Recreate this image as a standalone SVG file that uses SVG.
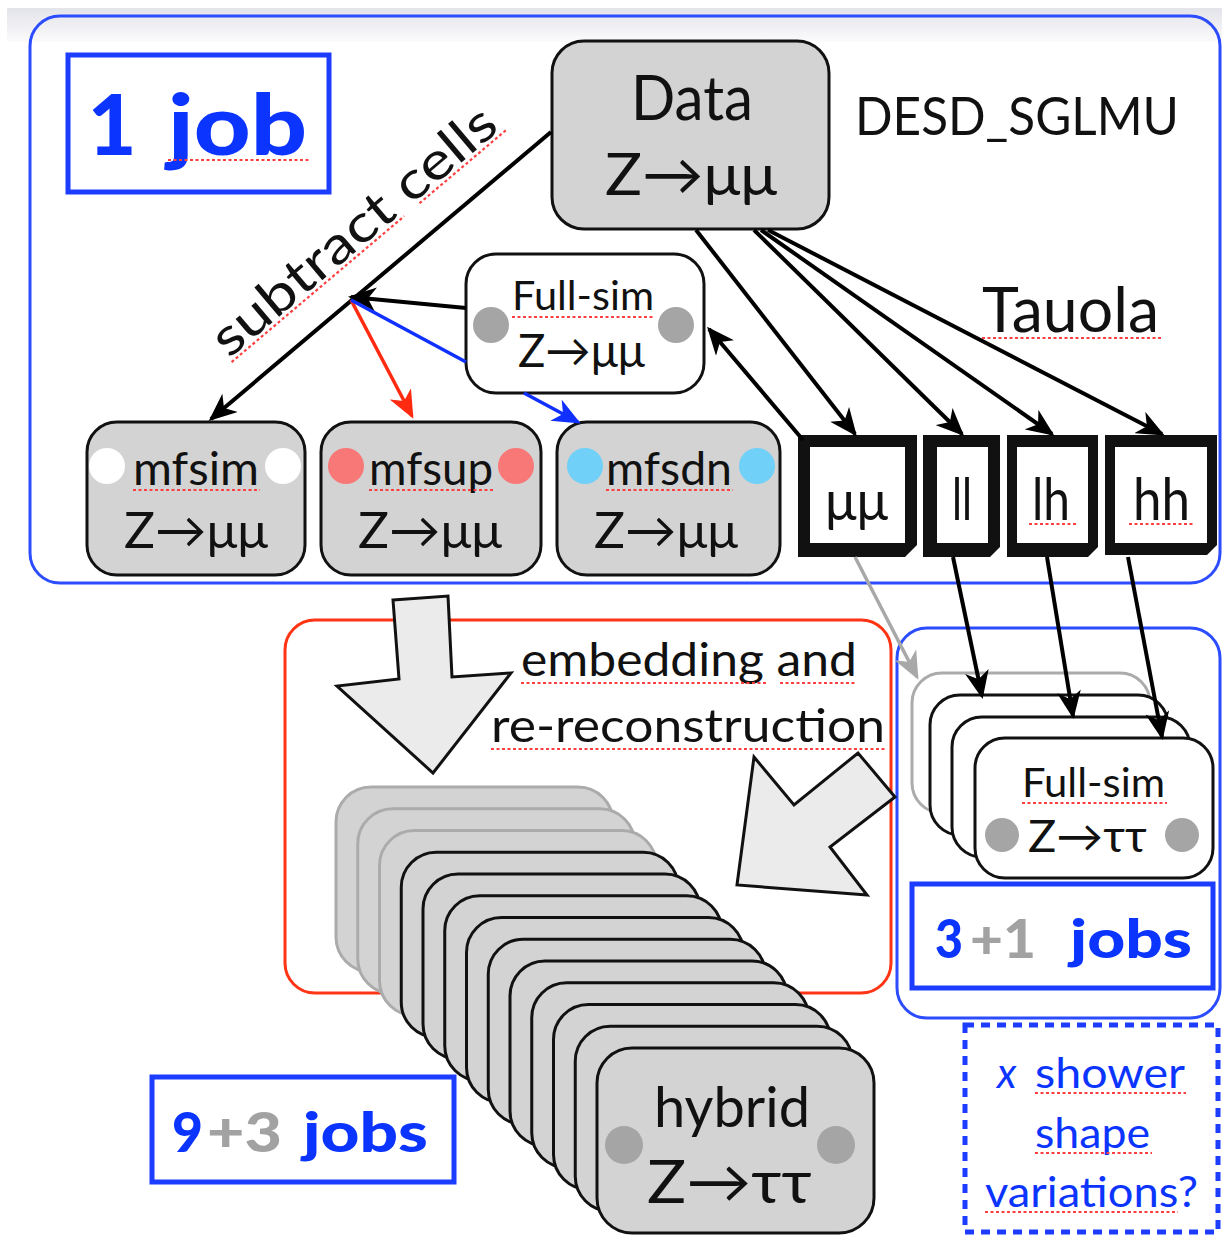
<svg xmlns="http://www.w3.org/2000/svg" width="1222" height="1236" viewBox="0 0 1222 1236">
  <defs>
    <style>
      .t { font-family: Lato, 'Open Sans', 'DejaVu Sans', sans-serif; fill: #111; }
      .b { font-weight: 900; }
      .blue { fill: #0b35ff; }
      .grey { fill: #a2a2a2; }
      .sp { stroke: #ff4040; stroke-width: 2.2; stroke-dasharray: 3 2.5; fill: none; }
      .frame { fill: none; stroke: #2c4dff; stroke-width: 3; }
      .jobbox { fill: #fff; stroke: #1c3dff; stroke-width: 5; }
      .node { fill: #d3d3d3; stroke: #111; stroke-width: 3; }
      .wnode { fill: #fff; stroke: #111; stroke-width: 3; }
      .ghost { fill: #d3d3d3; stroke: #ababab; stroke-width: 3; }
      .wghost { fill: #fff; stroke: #ababab; stroke-width: 3; }
      .frameb { fill: #111; }
      .inner { fill: #fff; }
      .k { stroke: #000; stroke-width: 4; fill: none; }
      .block { fill: #ebebeb; stroke: #111; stroke-width: 3; stroke-linejoin: miter; }
    </style>
    <linearGradient id="band" x1="0" y1="0" x2="0" y2="1">
      <stop offset="0" stop-color="#e3e3ea"/>
      <stop offset="1" stop-color="#fbfbfc"/>
    </linearGradient>
    <marker id="ah" viewBox="0 0 28 24" refX="25" refY="12" markerWidth="28" markerHeight="24" markerUnits="userSpaceOnUse" orient="auto">
      <path d="M0,0 L28,12 L0,24 L8,12 Z" fill="#000"/>
    </marker>
    <marker id="ahr" viewBox="0 0 28 24" refX="25" refY="12" markerWidth="28" markerHeight="24" markerUnits="userSpaceOnUse" orient="auto">
      <path d="M0,0 L28,12 L0,24 L8,12 Z" fill="#ff2a10"/>
    </marker>
    <marker id="ahb" viewBox="0 0 28 24" refX="25" refY="12" markerWidth="28" markerHeight="24" markerUnits="userSpaceOnUse" orient="auto">
      <path d="M0,0 L28,12 L0,24 L8,12 Z" fill="#1030ff"/>
    </marker>
    <marker id="ahg" viewBox="0 0 28 24" refX="25" refY="12" markerWidth="28" markerHeight="24" markerUnits="userSpaceOnUse" orient="auto">
      <path d="M0,0 L28,12 L0,24 L8,12 Z" fill="#a8a8a8"/>
    </marker>
    <rect id="hcard" width="277" height="185" rx="35"/>
    <rect id="fcard" width="238" height="140" rx="30"/>
  </defs>

  <rect width="1222" height="1236" fill="#fff"/>
  <rect x="7" y="8" width="1215" height="34" fill="url(#band)"/>

  <!-- frames -->
  <g id="frames">
    <rect class="frame" x="30" y="16" width="1190" height="567" rx="30"/>
    <rect class="frame" x="285" y="620" width="606" height="373" rx="30" style="stroke:#ff3414"/>
    <rect class="frame" x="897" y="628" width="323" height="390" rx="30"/>
    <rect x="965" y="1025" width="253" height="207" fill="none" stroke="#1c3dff" stroke-width="5" stroke-dasharray="9 7"/>
  </g>

  <!-- job count labels -->
  <g id="label-1job">
    <rect class="jobbox" x="68" y="55" width="261" height="137"/>
    <text class="t b blue" x="112" y="155" font-size="84" text-anchor="middle">1</text>
    <text class="t b blue" x="168" y="155" font-size="84" textLength="139" lengthAdjust="spacingAndGlyphs">job</text>
    <line class="sp" x1="168" y1="160" x2="310" y2="160"/>
  </g>

  <!-- Data -->
  <g id="data">
    <rect class="node" x="552" y="41" width="277" height="188" rx="32"/>
    <text class="t" x="631" y="120" font-size="62" textLength="122" lengthAdjust="spacingAndGlyphs">Data</text>
    <text class="t" x="605" y="195" font-size="58" textLength="172" lengthAdjust="spacingAndGlyphs">Z→μμ</text>
  </g>
  <text id="desd" class="t" x="855" y="135" font-size="52" textLength="324" lengthAdjust="spacingAndGlyphs">DESD_SGLMU</text>
  <g id="tauola-label">
    <text class="t" x="982" y="332" font-size="62" textLength="177" lengthAdjust="spacingAndGlyphs">Tauola</text>
    <line class="sp" x1="982" y1="338" x2="1162" y2="338"/>
  </g>

  <!-- subtract cells label -->
  <g id="subtract-label" transform="translate(229,359) rotate(-40.2)">
    <text class="t" x="0" y="0" font-size="52" textLength="356" lengthAdjust="spacingAndGlyphs">subtract cells</text>
    <line class="sp" x1="0" y1="4" x2="226" y2="4"/>
    <line class="sp" x1="246" y1="4" x2="360" y2="4"/>
  </g>

  <!-- Full-sim Z->mumu -->
  <g id="fullsim-mumu">
    <rect class="wnode" x="466" y="254" width="238" height="139" rx="30"/>
    <circle cx="491" cy="325" r="18" fill="#a5a5a5"/>
    <circle cx="676" cy="325" r="18" fill="#a5a5a5"/>
    <text class="t" x="512" y="310" font-size="40" textLength="142" lengthAdjust="spacingAndGlyphs">Full-sim</text>
    <line class="sp" x1="512" y1="317" x2="655" y2="317"/>
    <text class="t" x="518" y="367" font-size="46" textLength="127" lengthAdjust="spacingAndGlyphs">Z→μμ</text>
  </g>

  <!-- mfsim / mfsup / mfsdn -->
  <g id="mfsim">
    <rect class="node" x="87" y="422" width="218" height="153" rx="30"/>
    <circle cx="107" cy="466" r="18" fill="#fff"/>
    <circle cx="283" cy="466" r="18" fill="#fff"/>
    <text class="t" x="133" y="485" font-size="46" textLength="126" lengthAdjust="spacingAndGlyphs">mfsim</text>
    <line class="sp" x1="133" y1="490" x2="260" y2="490"/>
    <text class="t" x="124" y="548" font-size="50" textLength="144" lengthAdjust="spacingAndGlyphs">Z→μμ</text>
  </g>
  <g id="mfsup">
    <rect class="node" x="321" y="422" width="220" height="153" rx="30"/>
    <circle cx="346" cy="466" r="18" fill="#f87878"/>
    <circle cx="516" cy="466" r="18" fill="#f87878"/>
    <text class="t" x="369" y="485" font-size="46" textLength="124" lengthAdjust="spacingAndGlyphs">mfsup</text>
    <line class="sp" x1="369" y1="490" x2="494" y2="490"/>
    <text class="t" x="358" y="548" font-size="50" textLength="144" lengthAdjust="spacingAndGlyphs">Z→μμ</text>
  </g>
  <g id="mfsdn">
    <rect class="node" x="557" y="422" width="223" height="153" rx="30"/>
    <circle cx="585" cy="466" r="18" fill="#70d0f8"/>
    <circle cx="757" cy="466" r="18" fill="#70d0f8"/>
    <text class="t" x="606" y="485" font-size="46" textLength="126" lengthAdjust="spacingAndGlyphs">mfsdn</text>
    <line class="sp" x1="606" y1="490" x2="733" y2="490"/>
    <text class="t" x="594" y="548" font-size="50" textLength="144" lengthAdjust="spacingAndGlyphs">Z→μμ</text>
  </g>

  <!-- Tauola decay channels -->
  <g id="ch-mumu">
    <path class="frameb" d="M798,435 H917 V545 L905,557 H798 Z"/>
    <rect class="inner" x="810" y="447" width="95" height="96"/>
    <text class="t" x="825" y="520" font-size="56" textLength="63" lengthAdjust="spacingAndGlyphs">μμ</text>
  </g>
  <g id="ch-ll">
    <path class="frameb" d="M923,435 H1000 V547 L990,557 H923 Z"/>
    <rect class="inner" x="937" y="447" width="51" height="96"/>
    <text class="t" x="952" y="520" font-size="58" textLength="20" lengthAdjust="spacingAndGlyphs">ll</text>
  </g>
  <g id="ch-lh">
    <path class="frameb" d="M1007,435 H1098 V547 L1088,557 H1007 Z"/>
    <rect class="inner" x="1017" y="447" width="71" height="96"/>
    <text class="t" x="1032" y="520" font-size="58" textLength="38" lengthAdjust="spacingAndGlyphs">lh</text>
    <line class="sp" x1="1029" y1="524" x2="1078" y2="524"/>
  </g>
  <g id="ch-hh">
    <path class="frameb" d="M1105,435 H1217 V545 L1207,555 H1105 Z"/>
    <rect class="inner" x="1115" y="447" width="92" height="96"/>
    <text class="t" x="1133" y="520" font-size="58" textLength="57" lengthAdjust="spacingAndGlyphs">hh</text>
    <line class="sp" x1="1129" y1="524" x2="1195" y2="524"/>
  </g>

  <!-- embedding label -->
  <g id="embed-label">
    <text class="t" x="521" y="676" font-size="46" textLength="336" lengthAdjust="spacingAndGlyphs">embedding and</text>
    <line class="sp" x1="521" y1="683" x2="766" y2="683"/>
    <line class="sp" x1="780" y1="683" x2="856" y2="683"/>
    <text class="t" x="491" y="742" font-size="46" textLength="394" lengthAdjust="spacingAndGlyphs">re-reconstruction</text>
    <line class="sp" x1="491" y1="749" x2="885" y2="749"/>
  </g>

  <!-- Full-sim Z->tautau stack -->
  <g id="fullsim-tautau">
    <use href="#fcard" x="912" y="673" class="wghost"/>
    <use href="#fcard" x="930" y="695" class="wnode"/>
    <use href="#fcard" x="952" y="717" class="wnode"/>
    <use href="#fcard" x="975" y="738" class="wnode"/>
    <circle cx="1002" cy="835" r="17" fill="#a5a5a5"/>
    <circle cx="1182" cy="835" r="17" fill="#a5a5a5"/>
    <text class="t" x="1022" y="797" font-size="40" textLength="143" lengthAdjust="spacingAndGlyphs">Full-sim</text>
    <line class="sp" x1="1022" y1="803" x2="1167" y2="803"/>
    <text class="t" x="1028" y="852" font-size="44" textLength="119" lengthAdjust="spacingAndGlyphs">Z→ττ</text>
  </g>

  <g id="label-3p1">
    <rect class="jobbox" x="912" y="884" width="301" height="104"/>
    <text class="t b blue" x="935" y="958" font-size="54" textLength="28" lengthAdjust="spacingAndGlyphs">3</text>
    <text class="t b grey" x="970" y="958" font-size="54" textLength="66" lengthAdjust="spacingAndGlyphs">+1</text>
    <text class="t b blue" x="1070" y="958" font-size="54" textLength="122" lengthAdjust="spacingAndGlyphs">jobs</text>
  </g>

  <!-- hybrid Z->tautau stack -->
  <g id="hybrid">
    <use href="#hcard" x="336" y="787" class="ghost"/>
    <use href="#hcard" x="357.75" y="808.75" class="ghost"/>
    <use href="#hcard" x="379.5" y="830.5" class="ghost"/>
    <use href="#hcard" x="401.25" y="852.25" class="node"/>
    <use href="#hcard" x="423" y="874" class="node"/>
    <use href="#hcard" x="444.75" y="895.75" class="node"/>
    <use href="#hcard" x="466.5" y="917.5" class="node"/>
    <use href="#hcard" x="488.25" y="939.25" class="node"/>
    <use href="#hcard" x="510" y="961" class="node"/>
    <use href="#hcard" x="531.75" y="982.75" class="node"/>
    <use href="#hcard" x="553.5" y="1004.5" class="node"/>
    <use href="#hcard" x="575.25" y="1026.25" class="node"/>
    <use href="#hcard" x="597" y="1048" class="node"/>
    <circle cx="624" cy="1145" r="19" fill="#a5a5a5"/>
    <circle cx="836" cy="1145" r="19" fill="#a5a5a5"/>
    <text class="t" x="654" y="1127" font-size="56" textLength="156" lengthAdjust="spacingAndGlyphs">hybrid</text>
    <text class="t" x="647" y="1203" font-size="60" textLength="165" lengthAdjust="spacingAndGlyphs">Z→ττ</text>
  </g>

  <g id="label-9p3">
    <rect class="jobbox" x="152" y="1077" width="302" height="105"/>
    <text class="t b blue" x="172" y="1152" font-size="56" textLength="31" lengthAdjust="spacingAndGlyphs">9</text>
    <text class="t b grey" x="207" y="1152" font-size="56" textLength="75" lengthAdjust="spacingAndGlyphs">+3</text>
    <text class="t b blue" x="303" y="1152" font-size="56" textLength="125" lengthAdjust="spacingAndGlyphs">jobs</text>
  </g>

  <g id="label-shower">
    <text class="t blue" x="997" y="1088" font-size="42" font-style="italic">x</text>
    <text class="t blue" x="1035" y="1088" font-size="42" textLength="150" lengthAdjust="spacingAndGlyphs">shower</text>
    <line class="sp" x1="1035" y1="1093" x2="1186" y2="1093"/>
    <text class="t blue" x="1035" y="1148" font-size="42" textLength="115" lengthAdjust="spacingAndGlyphs">shape</text>
    <line class="sp" x1="1035" y1="1153" x2="1152" y2="1153"/>
    <text class="t blue" x="985" y="1207" font-size="42" textLength="213" lengthAdjust="spacingAndGlyphs">variations?</text>
    <line class="sp" x1="985" y1="1212" x2="1178" y2="1212"/>
  </g>

  <!-- connectors -->
  <g id="connectors">
    <line class="k" x1="551" y1="132" x2="211" y2="419" marker-end="url(#ah)"/>
    <line class="k" x1="466" y1="308" x2="351" y2="297" marker-end="url(#ah)"/>
    <line x1="351" y1="300" x2="412" y2="416" stroke="#ff2a10" stroke-width="3.5" marker-end="url(#ahr)"/>
    <path d="M351,300 L466,362 M524,393 L578,422" fill="none" stroke="#1030ff" stroke-width="3.5" marker-end="url(#ahb)"/>
    <line class="k" x1="803" y1="440" x2="709" y2="329" marker-end="url(#ah)"/>
    <line class="k" x1="696" y1="230" x2="855" y2="434" marker-end="url(#ah)"/>
    <line class="k" x1="754" y1="230" x2="962" y2="434" marker-end="url(#ah)"/>
    <line class="k" x1="761" y1="230" x2="1052" y2="434" marker-end="url(#ah)"/>
    <line class="k" x1="768" y1="230" x2="1162" y2="434" marker-end="url(#ah)"/>
    <line x1="855" y1="557" x2="917" y2="677" stroke="#a8a8a8" stroke-width="3.5" marker-end="url(#ahg)"/>
    <line class="k" x1="953" y1="557" x2="982" y2="696" marker-end="url(#ah)"/>
    <line class="k" x1="1047" y1="557" x2="1073" y2="716" marker-end="url(#ah)"/>
    <line class="k" x1="1128" y1="557" x2="1162" y2="737" marker-end="url(#ah)"/>
    <polygon class="block" points="393,600 448,596 452,677 511,673 433,773 337,686 399,679"/>
    <polygon class="block" points="754,757 794,805 858,753 895,797 830,847 867,895 737,885"/>
  </g>
</svg>
